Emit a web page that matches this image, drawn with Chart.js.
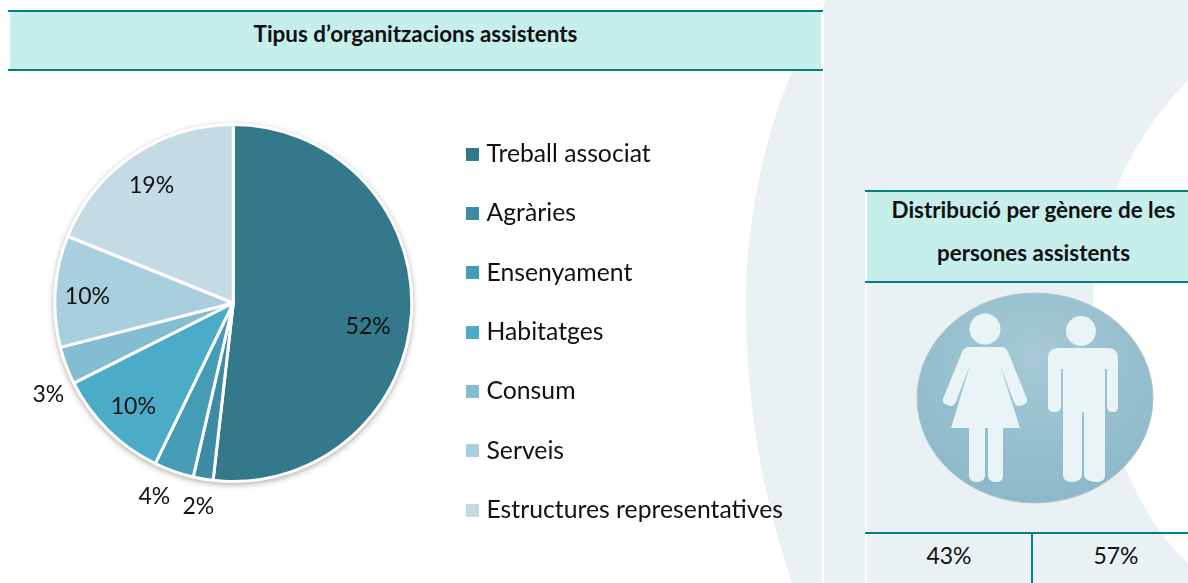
<!DOCTYPE html>
<html lang="ca">
<head>
<meta charset="utf-8">
<script src="https://cdn.jsdelivr.net/npm/chart.js@4"></script>
<style>
html,body{margin:0;padding:0;background:#fff;}
body{width:1188px;height:583px;position:relative;overflow:hidden;font-family:Lato,"Open Sans",sans-serif;color:#111;}
.abs{position:absolute;}
.head{background:#c6eeea;box-sizing:border-box;border-top:2px solid #008080;border-bottom:2px solid #008080;font-weight:700;font-size:22.4px;text-align:center;}
.head span{position:relative;display:block;}
.pct{font-size:23px;text-align:center;line-height:26px;}
.gap{background:#fff;}
canvas{display:block;}
</style>
</head>
<body>
<svg class="abs" style="left:0;top:0" width="1188" height="583">
  <path fill="#e9f1f5" d="M826 0C770 100 745 210 746 307C747 400 758 480 792 583L1188 583L1188 563C1140 520 1093 420 1093 300C1093 220 1130 140 1188 80L1188 0Z"/>
  <rect x="822" y="0" width="2" height="583" fill="#fff"/>
  <rect x="865" y="190" width="2" height="393" fill="#fff"/>
  <defs>
    <radialGradient id="disc" cx="0.5" cy="0.3" r="0.8">
      <stop offset="0" stop-color="#a6c9d5"/>
      <stop offset="1" stop-color="#88b7c8"/>
    </radialGradient>
  </defs>
  <ellipse cx="1035" cy="398" rx="118" ry="105" fill="url(#disc)" stroke="#b5c6cc" stroke-width="1"/>
  <g fill="#e9f4f7">
    <ellipse cx="985" cy="329" rx="15.5" ry="15.5"/>
    <path d="M969 347H1001Q1006 347 1008 352L1027 399Q1028 403 1023 405L1019 406Q1016 406 1014 402L1000 365L1020 428H1003V476Q1003 482 996 482Q989 482 988 476V428H985V476Q984 482 977 482Q970 482 969 476V428H951L970 365L956 402Q954 406 951 406L947 405Q942 403 943 399L962 352Q964 347 969 347Z"/>
    <ellipse cx="1081" cy="331" rx="15" ry="15"/>
    <path d="M1058 348H1108Q1118 348 1118 358V407Q1118 412 1113 412Q1107 412 1107 407V369H1105V475Q1105 482 1097 482Q1085 482 1084 475V412H1082V475Q1081 482 1072 482Q1063 482 1063 475V369H1061V407Q1061 412 1054 412Q1048 412 1048 407V358Q1048 348 1058 348Z"/>
  </g>
  <rect x="865" y="532" width="323" height="2" fill="#008080"/>
  <rect x="1031" y="532" width="2" height="51" fill="#008080"/>
</svg>

<div class="abs head" style="left:8px;top:10px;width:815px;height:61px;line-height:44px;"><span id="leftTitle"></span></div>
<div class="abs gap" style="left:8px;top:12px;width:2px;height:57px;"></div>
<div class="abs gap" style="left:821px;top:12px;width:2px;height:57px;"></div>
<div class="abs head" style="left:865px;top:190px;width:323px;height:93px;line-height:43px;"><span id="rightTitle" style="top:-4px;left:7px"></span></div>
<div class="abs gap" style="left:865px;top:192px;width:2px;height:89px;"></div>
<div class="abs pct" style="left:867px;top:542px;width:164px;" id="pctF"></div>
<div class="abs pct" style="left:1033px;top:542px;width:166px;" id="pctM"></div>

<div class="abs" style="left:0;top:49px;width:793px;height:508px;">
  <canvas id="c" width="793" height="508"></canvas>
</div>

<script>
const titleLeft = "Tipus d\u2019organitzacions assistents";
const titleRight = ["Distribuci\u00f3 per g\u00e8nere de les", "persones assistents"];
const categories = ["Treball associat","Agr\u00e0ries","Ensenyament","Habitatges","Consum","Serveis","Estructures representatives"];
const shares = [51.8,1.8,3.6,10.4,3.4,10.1,18.9];
const colours = ["#34788c","#3e8ba5","#449cb5","#4aacc6","#84bdd1","#a9cedd","#c4dbe6"];
const labelRadiusFactor = [0.767,1.159,1.173,0.807,1.157,0.818,0.80];
const labelAngleShiftDeg = [6.7,0,2.7,-0.7,-5.9,-1.2,-0.9];
const genderShares = ["43%","57%"];

document.getElementById('leftTitle').textContent = titleLeft;
document.getElementById('rightTitle').innerHTML = titleRight.join('<br>');
document.getElementById('pctF').textContent = genderShares[0];
document.getElementById('pctM').textContent = genderShares[1];

const FONT = 'Lato, "Open Sans", sans-serif';
function swatch(col){
  const s = document.createElement('canvas');
  s.width = 13; s.height = 13;
  const g = s.getContext('2d');
  g.fillStyle = col; g.fillRect(0,0,13,13);
  return s;
}
const swatches = colours.map(swatch);

const piePlugin = {
  id:'pieExtras',
  beforeDatasetsDraw(chart){
    const a = chart.getDatasetMeta(0).data[0];
    const ctx = chart.ctx;
    ctx.save();
    ctx.shadowColor = 'rgba(0,0,0,0.35)';
    ctx.shadowBlur = 6;
    ctx.shadowOffsetY = 2;
    ctx.fillStyle = '#f4f4f4';
    ctx.beginPath();
    ctx.arc(a.x,a.y,a.outerRadius+1,0,Math.PI*2);
    ctx.fill();
    ctx.restore();
  },
  afterDatasetsDraw(chart){
    const ctx = chart.ctx;
    ctx.save();
    ctx.font = '23px '+FONT;
    ctx.fillStyle = '#111';
    ctx.textAlign = 'center';
    ctx.textBaseline = 'middle';
    chart.getDatasetMeta(0).data.forEach((a,i)=>{
      const mid = (a.startAngle+a.endAngle)/2 + labelAngleShiftDeg[i]*Math.PI/180;
      const r = a.outerRadius*labelRadiusFactor[i];
      ctx.fillText(Math.round(shares[i])+'%', a.x+Math.cos(mid)*r, a.y+Math.sin(mid)*r);
    });
    ctx.restore();
  }
};

new Chart(document.getElementById('c'),{
  type:'pie',
  data:{labels:categories,datasets:[{data:shares,backgroundColor:colours,borderColor:'#fff',borderWidth:3,radius:178.5}]},
  options:{
    responsive:false,animation:false,
    layout:{padding:{left:31}},
    plugins:{
      tooltip:{enabled:false},
      title:{display:false},
      legend:{
        position:'right',align:'end',
        labels:{
          usePointStyle:true,pointStyleWidth:4,boxHeight:13,
          padding:59.33-24.75,color:'#111',
          font:{family:FONT,size:24.75},
          generateLabels(chart){
            return categories.map((t,i)=>({text:t,fillStyle:colours[i],strokeStyle:colours[i],lineWidth:0,pointStyle:swatches[i],hidden:false,index:i,fontColor:'#111'}));
          }
        }
      }
    }
  },
  plugins:[piePlugin]
});
</script>
</body>
</html>
